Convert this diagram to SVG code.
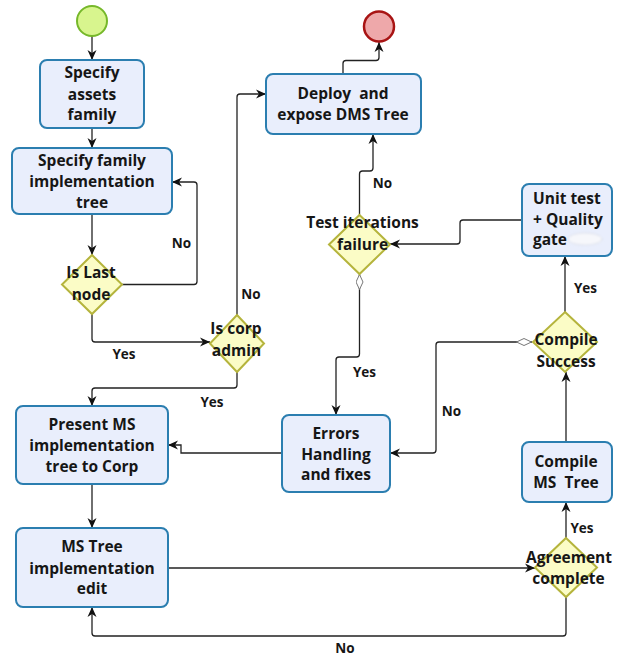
<svg xmlns="http://www.w3.org/2000/svg" width="628" height="657" viewBox="0 0 628 657">
  <defs>
    <marker id="arrow" viewBox="0 0 10 10" refX="10" refY="5" markerWidth="10" markerHeight="10" markerUnits="userSpaceOnUse" orient="auto">
      <path d="M0,0.5 L10,5 L0,9.5 L3,5 z" fill="#111"/>
    </marker>
    <marker id="hollow" viewBox="0 0 16 8" refX="0" refY="4" markerWidth="16" markerHeight="8" markerUnits="userSpaceOnUse" orient="auto">
      <path d="M0.5,4 L8,0.5 L15.5,4 L8,7.5 z" fill="#fff" stroke="#777" stroke-width="1"/>
    </marker>
    <filter id="smudge" x="-20%" y="-40%" width="140%" height="180%">
      <feGaussianBlur stdDeviation="1.2"/>
    </filter>
  </defs>
  <style>
    .task { fill: #e9eefc; stroke: #2b7eb0; stroke-width: 2; }
    .gate { fill: #fbfcc6; stroke: #b5b43c; stroke-width: 2; }
    .lbl { font-family: "Open Sans", "Noto Sans", "DejaVu Sans", sans-serif; font-weight: bold; font-size: 15.5px; fill: #161616; text-anchor: middle; }
    .edge-lbl { font-family: "Open Sans", "Noto Sans", "DejaVu Sans", sans-serif; font-weight: bold; font-size: 13.5px; fill: #161616; text-anchor: middle; }
    .wire { fill: none; stroke: #222; stroke-width: 1.3; }
    .to { marker-end: url(#arrow); }
  </style>
  <rect width="628" height="657" fill="#ffffff"/>

  <!-- connectors -->
  <g id="connectors">
    <path class="wire to" d="M92,36 V60"/>
    <path class="wire to" d="M92,128 V148"/>
    <path class="wire to" d="M92,214 V255"/>
    <path class="wire to" d="M122,284.5 H194 Q197,284.5 197,281.5 V185 Q197,182 194,182 H172"/>
    <path class="wire to" d="M92,314 V339 Q92,342 95,342 H210"/>
    <path class="wire to" d="M237,315 V97 Q237,94 240,94 H266"/>
    <path class="wire to" d="M237,372 V385 Q237,388 234,388 H95 Q92,388 92,391 V406"/>
    <path class="wire to" d="M343,74 V63.5 Q343,60.5 346,60.5 H376 Q379,60.5 379,57.5 V42"/>
    <path class="wire to" d="M359.5,215 V174 Q359.5,171 362.5,171 H370 Q373,171 373,168 V134"/>
    <path class="wire to" d="M522,220 H463 Q460,220 460,223 V241 Q460,244 457,244 H390"/>
    <path class="wire to" d="M359.5,274 V354 Q359.5,357 356.5,357 H339 Q336,357 336,360 V415" marker-start="url(#hollow)"/>
    <path class="wire to" d="M282,453 H181 V445 H168"/>
    <path class="wire to" d="M92,484 V528"/>
    <path class="wire to" d="M168,568 H535"/>
    <path class="wire to" d="M566,597 V633 Q566,636 563,636 H95 Q92,636 92,633 V607"/>
    <path class="wire to" d="M566,538 V502"/>
    <path class="wire to" d="M566,442 V372"/>
    <path class="wire to" d="M565,312 V256"/>
    <path class="wire to" d="M532,342 H439 Q436,342 436,345 V450 Q436,453 433,453 H390" marker-start="url(#hollow)"/>
  </g>

  <!-- start / end events -->
  <g id="start">
    <circle cx="92" cy="21" r="15" fill="#d8f58e" stroke="#76b82a" stroke-width="2"/>
  </g>
  <g id="end">
    <circle cx="379" cy="26.5" r="15" fill="#eea8aa" stroke="#a81414" stroke-width="2.5"/>
  </g>

  <!-- tasks -->
  <g id="specify-assets">
    <rect class="task" x="40" y="60" width="104" height="68" rx="7"/>
    <text class="lbl" x="92" y="78">Specify</text>
    <text class="lbl" x="92" y="99.5">assets</text>
    <text class="lbl" x="92" y="120">family</text>
  </g>
  <g id="specify-tree">
    <rect class="task" x="12" y="148" width="160" height="66" rx="7"/>
    <text class="lbl" x="92" y="166">Specify family</text>
    <text class="lbl" x="92" y="187">implementation</text>
    <text class="lbl" x="92" y="208">tree</text>
  </g>
  <g id="deploy">
    <rect class="task" x="266" y="74" width="155" height="60" rx="7"/>
    <text class="lbl" x="343" y="99" xml:space="preserve">Deploy  and</text>
    <text class="lbl" x="343" y="119.5">expose DMS Tree</text>
  </g>
  <g id="unit-test">
    <rect class="task" x="522" y="184" width="90" height="72" rx="7"/>
    <text class="lbl" x="533" y="204" style="text-anchor:start">Unit test</text>
    <text class="lbl" x="533" y="225" style="text-anchor:start">+ Quality</text>
    <text class="lbl" x="533" y="245" style="text-anchor:start">gate</text>
    <ellipse cx="585" cy="239" rx="17" ry="6" fill="#f6f7fb" stroke="#c8ccd6" stroke-width="1" stroke-dasharray="1.5 1.5" filter="url(#smudge)"/>
  </g>
  <g id="present">
    <rect class="task" x="16" y="406" width="152" height="78" rx="7"/>
    <text class="lbl" x="92" y="429.5">Present MS</text>
    <text class="lbl" x="92" y="451">implementation</text>
    <text class="lbl" x="92" y="472">tree to Corp</text>
  </g>
  <g id="errors">
    <rect class="task" x="282" y="415" width="108" height="77" rx="7"/>
    <text class="lbl" x="336" y="438.5">Errors</text>
    <text class="lbl" x="336" y="459.5">Handling</text>
    <text class="lbl" x="336" y="479.5">and fixes</text>
  </g>
  <g id="ms-tree-edit">
    <rect class="task" x="16" y="528" width="152" height="79" rx="7"/>
    <text class="lbl" x="92" y="552">MS Tree</text>
    <text class="lbl" x="92" y="573.5">implementation</text>
    <text class="lbl" x="92" y="594">edit</text>
  </g>
  <g id="compile">
    <rect class="task" x="522" y="442" width="90" height="60" rx="7"/>
    <text class="lbl" x="566" y="467">Compile</text>
    <text class="lbl" x="566" y="487.5" xml:space="preserve">MS  Tree</text>
  </g>

  <!-- gateways -->
  <g id="is-last-node">
    <polygon class="gate" points="92,255 122,284.5 92,314 62,284.5"/>
    <text class="lbl" x="91" y="278">Is Last</text>
    <text class="lbl" x="91" y="300">node</text>
  </g>
  <g id="is-corp-admin">
    <polygon class="gate" points="237,315 264,343.5 237,372 210,343.5"/>
    <text class="lbl" x="236" y="334">Is corp</text>
    <text class="lbl" x="236.5" y="356">admin</text>
  </g>
  <g id="test-iterations">
    <polygon class="gate" points="359.5,215 390,244.5 359.5,274 329,244.5"/>
    <text class="lbl" x="362.5" y="228">Test iterations</text>
    <text class="lbl" x="362.5" y="250">failure</text>
  </g>
  <g id="compile-success">
    <polygon class="gate" points="565,312 597,342 565,372 533,342"/>
    <text class="lbl" x="566" y="345">Compile</text>
    <text class="lbl" x="566" y="366.5">Success</text>
  </g>
  <g id="agreement">
    <polygon class="gate" points="566,538 597,567.5 566,597 535,567.5"/>
    <text class="lbl" x="569" y="562.5">Agreement</text>
    <text class="lbl" x="568.5" y="584">complete</text>
  </g>

  <!-- branch labels -->
  <g id="labels">
    <text class="edge-lbl" x="181.5" y="248">No</text>
    <text class="edge-lbl" x="124" y="359">Yes</text>
    <text class="edge-lbl" x="251" y="299">No</text>
    <text class="edge-lbl" x="212" y="407">Yes</text>
    <text class="edge-lbl" x="382.5" y="188">No</text>
    <text class="edge-lbl" x="364.5" y="377">Yes</text>
    <text class="edge-lbl" x="451.5" y="415.5">No</text>
    <text class="edge-lbl" x="585.5" y="293">Yes</text>
    <text class="edge-lbl" x="582" y="532.5">Yes</text>
    <text class="edge-lbl" x="345" y="653">No</text>
  </g>
</svg>
